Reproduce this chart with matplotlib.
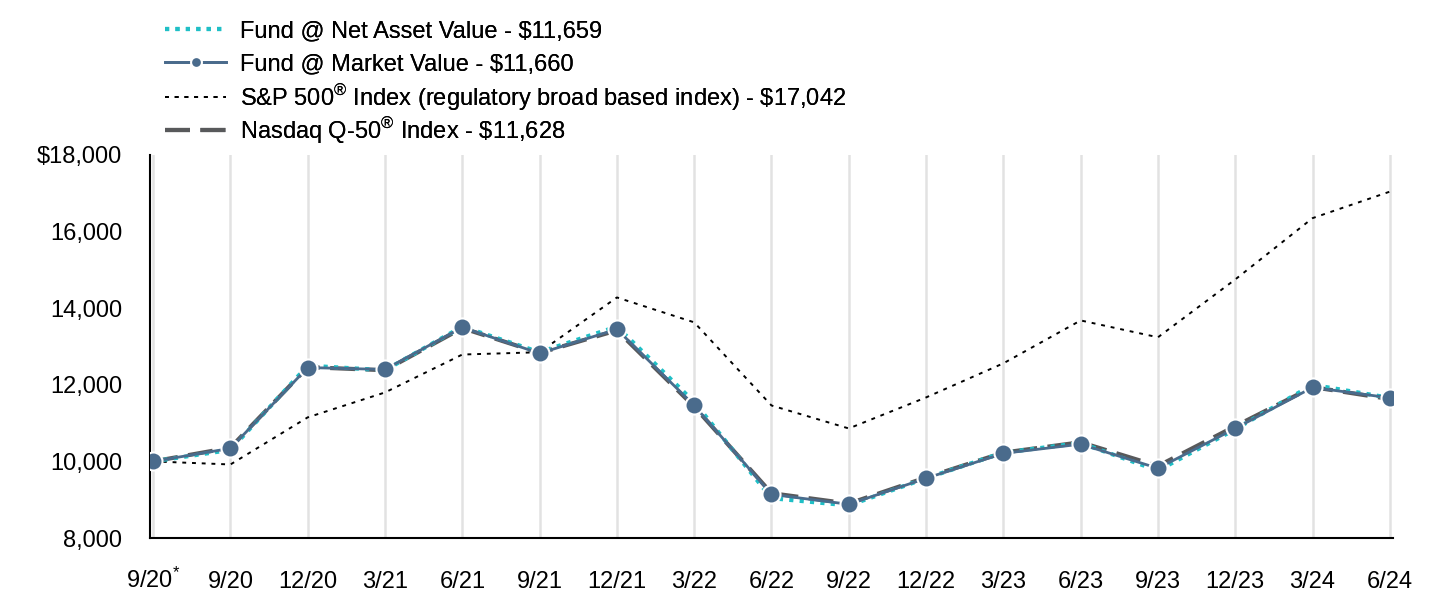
import matplotlib.pyplot as plt
from matplotlib.ticker import FuncFormatter

plt.rcParams['font.family'] = ['Liberation Sans', 'DejaVu Sans']
plt.rcParams['mathtext.fontset'] = 'custom'
plt.rcParams['mathtext.rm'] = 'Liberation Sans'
plt.rcParams['mathtext.it'] = 'Liberation Sans'

# ---------- data ----------
dates = ["9/20$^{*}$", "9/20", "12/20", "3/21", "6/21", "9/21", "12/21", "3/22", "6/22",
         "9/22", "12/22", "3/23", "6/23", "9/23", "12/23", "3/24", "6/24"]
nav = [10000, 10300, 12500, 12380, 13520, 12850, 13520, 11550, 9040,
       8850, 9560, 10230, 10480, 9760, 10840, 12000, 11659]
market = [10000, 10340, 12450, 12400, 13500, 12820, 13450, 11460, 9140,
          8880, 9560, 10210, 10450, 9820, 10860, 11930, 11660]
sp500 = [10000, 9920, 11150, 11800, 12790, 12850, 14280, 13630, 11460,
         10860, 11670, 12560, 13680, 13240, 14750, 16350, 17042]
nasdaq = [10000, 10360, 12460, 12380, 13480, 12830, 13420, 11430, 9170,
          8900, 9580, 10230, 10500, 9880, 10920, 11940, 11628]

labels = [r"Fund @ Net Asset Value - \$11,659",
          r"Fund @ Market Value - \$11,660",
          r"S&P 500$^{®}$ Index (regulatory broad based index) - \$17,042",
          r"Nasdaq Q-50$^{®}$ Index - \$11,628"]

x = list(range(len(dates)))

fig = plt.figure(figsize=(14.36, 6.10), dpi=100)
ax = fig.add_axes([0.1045, 0.118, 0.8655, 0.628])

h_nas, = ax.plot(x, nasdaq, color="#58595b", lw=3, dashes=(6, 2.5), zorder=3)
h_mkt, = ax.plot(x, market, color="#4a6b8c", lw=2, marker="o", ms=13,
                 mfc="#4a6b8c", mec="white", mew=1.5, zorder=5)
h_nav, = ax.plot(x, nav, color="#1fbfc6", lw=3, ls=(0, (1, 1.5)), zorder=4)
h_sp, = ax.plot(x, sp500, color="black", lw=1.4, ls=(0, (2, 3)), zorder=2)

ax.set_xlim(-0.04, 16.04)
ax.set_ylim(8000, 18000)
ax.set_yticks(range(8000, 18001, 2000))
ax.yaxis.set_major_formatter(FuncFormatter(
    lambda v, p: f"${v:,.0f}" if v == 18000 else f"{v:,.0f}"))
ax.set_xticks(x)
ax.set_xticklabels(dates)
ax.tick_params(axis="both", length=0, labelsize=17, colors="black")
ax.tick_params(axis="x", pad=36)
ax.tick_params(axis="y", pad=20)
for lbl in ax.get_xticklabels():
    lbl.set_va("baseline")

ax.grid(axis="x", color="#e2e2e2", lw=1.8)
ax.set_axisbelow(True)
for s in ["top", "right"]:
    ax.spines[s].set_visible(False)
ax.spines["left"].set_linewidth(1.5)
ax.spines["bottom"].set_linewidth(1.5)

# one legend per row so the superscripts don't change the row spacing
handles = [h_nav, h_mkt, h_sp, h_nas]
row_y = [0.949, 0.895, 0.840, 0.786]
for h, lab, yy in zip(handles, labels, row_y):
    leg = fig.legend([h], [lab], loc="center left", bbox_to_anchor=(0.1, yy),
                     frameon=False, fontsize=17, handlelength=2.6,
                     handletextpad=0.6, markerscale=0.6)
    fig.add_artist(leg)

fig.savefig("out.png", dpi=100)
